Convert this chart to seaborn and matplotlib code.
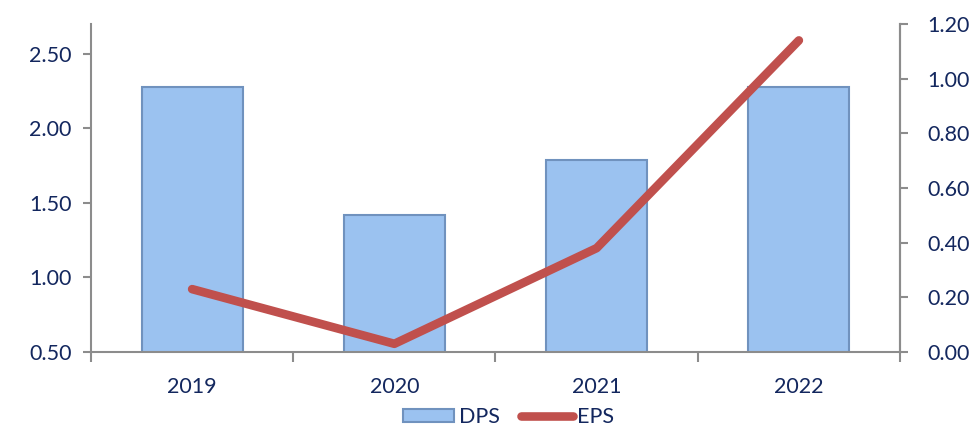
import matplotlib
matplotlib.use("Agg")
import matplotlib.pyplot as plt
import seaborn as sns
import pandas as pd
from matplotlib.patches import Patch
from matplotlib.lines import Line2D
from matplotlib.ticker import FixedLocator, FormatStrFormatter

years = ["2019", "2020", "2021", "2022"]
dps = [2.28, 1.42, 1.79, 2.28]
eps = [0.23, 0.03, 0.38, 1.14]

sns.set_theme(style="white")
plt.rcParams['font.family'] = ['Lato', 'DejaVu Sans']

TXT = "#13275E"
GRID = "#8C8C8C"
BAR = "#9BC2F0"
BAR_EDGE = "#7092BE"
LINE = "#C0504D"

df = pd.DataFrame({"year": years, "DPS": dps, "EPS": eps})

fig = plt.figure(figsize=(9.74, 4.30), dpi=100)
ax = fig.add_axes([91/974, 78/430, (900-91)/974, (352-24)/430])

sns.barplot(data=df, x="year", y="DPS", ax=ax, color=BAR, width=0.5,
            edgecolor=BAR_EDGE, linewidth=1.5, saturation=1)
ax.set_ylim(0.5, 2.70)
ax.set_xlim(-0.5, 3.5)
ax.set_yticks([0.5, 1.0, 1.5, 2.0, 2.5])
ax.yaxis.set_major_formatter(FormatStrFormatter('%.2f'))
ax.set_xlabel("")
ax.set_ylabel("")

ax2 = ax.twinx()
sns.lineplot(data=df, x="year", y="EPS", ax=ax2, color=LINE, linewidth=6.2,
             sort=False, solid_capstyle="round")
ax2.set_ylim(0, 1.2)
ax2.set_yticks([0, 0.2, 0.4, 0.6, 0.8, 1.0, 1.2])
ax2.yaxis.set_major_formatter(FormatStrFormatter('%.2f'))
ax2.set_ylabel("")
ax2.set_xlim(-0.5, 3.5)

for a in (ax, ax2):
    a.spines['top'].set_visible(False)
    for s in a.spines.values():
        s.set_color(GRID)
        s.set_linewidth(1.5)
ax2.spines['left'].set_visible(False)
ax2.spines['bottom'].set_visible(False)

ax.tick_params(axis='y', colors=GRID, labelcolor=TXT, labelsize=15.5,
               left=True, length=6, width=1.5, direction='out', pad=8)
ax2.tick_params(axis='y', colors=GRID, labelcolor=TXT, labelsize=15.5,
                right=True, length=6, width=1.5, direction='out', pad=14)
ax.tick_params(axis='x', which='major', length=0, labelcolor=TXT,
               labelsize=15.5, pad=18)
ax.xaxis.set_minor_locator(FixedLocator([-0.5, 0.5, 1.5, 2.5, 3.5]))
ax.tick_params(axis='x', which='minor', bottom=True, length=7, width=1.5,
               color=GRID, direction='out')

handles = [Patch(facecolor=BAR, edgecolor=BAR_EDGE, linewidth=1.5),
           Line2D([0], [0], color=LINE, linewidth=6.2, solid_capstyle="round")]
leg = fig.legend(handles, ["DPS", "EPS"], loc="center", bbox_to_anchor=(0.522, 0.03),
                 ncol=2, frameon=False, fontsize=15.5, handlelength=2.4,
                 handleheight=0.55, handletextpad=0.2, columnspacing=1.0)
for t in leg.get_texts():
    t.set_color(TXT)

fig.savefig("out.png", dpi=100)
